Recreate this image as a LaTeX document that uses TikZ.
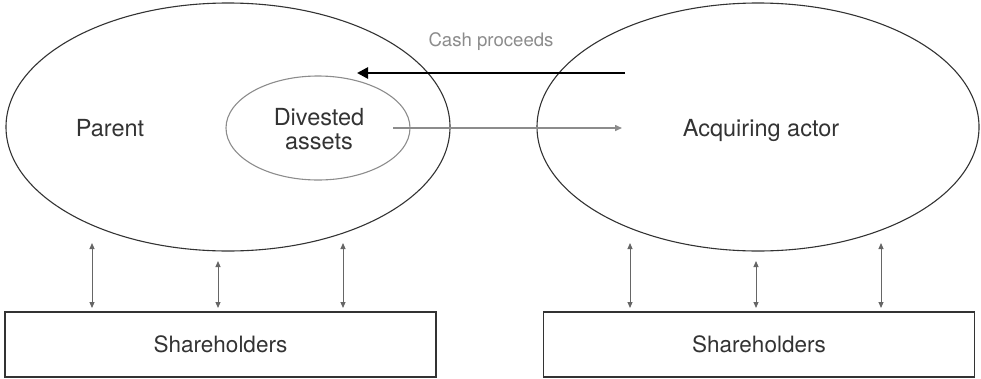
\documentclass[tikz,border=0pt]{standalone}
\usepackage{fontspec}
\setmainfont{TeX Gyre Heros}
\usetikzlibrary{shapes.geometric,arrows.meta}
\definecolor{ink}{HTML}{333333}
\definecolor{soft}{HTML}{8C8C8C}
\definecolor{mid}{HTML}{666666}
\tikzset{
  org/.style={ellipse,draw=ink,line width=1.1pt,inner sep=0pt},
  sub/.style={ellipse,draw=soft,line width=1.1pt,inner sep=0pt},
  lbl/.style={text=ink,font=\fontsize{23.5}{27}\selectfont,align=center},
  holder/.style={draw=ink,line width=1.1pt,minimum width=431pt,minimum height=65pt,inner sep=0pt,text=ink,font=\fontsize{22.5}{26}\selectfont},
  dbl/.style={draw=mid,line width=1pt,{Triangle[length=6pt,width=5pt]}-{Triangle[length=6pt,width=5pt]}},
  cash/.style={draw=black,line width=2.6pt,-{Triangle[length=11pt,width=11pt]}},
  transfer/.style={draw=soft,line width=1.5pt,-{Triangle[length=7pt,width=6pt]}},
}
\begin{document}
\begin{tikzpicture}[x=1pt,y=-1pt]
\useasboundingbox (0,0) rectangle (981,378);
% organisations
\node[org,minimum width=444pt,minimum height=248pt] (parent) at (228,127) {};
\node[org,minimum width=442pt,minimum height=248pt] (acq) at (758,127) {};
\node[sub,minimum width=184pt,minimum height=104pt] (div) at (318,128) {};
\node[lbl] (parentlbl) at (110,128) {Parent};
\node[lbl] (divlbl) at (319,129) {Divested\\[-3pt]assets};
\node[lbl] (acqlbl) at (761,130) {Acquiring actor};
\node[text=soft,font=\fontsize{18.6}{22}\selectfont] (cashlbl) at (491,42) {Cash proceeds};
% shareholders
\node[holder] (shL) at (220.5,344.5) {Shareholders};
\node[holder] (shR) at (759,344.5) {Shareholders};
% flows
\coordinate (cashS) at (625,73);
\coordinate (cashE) at (357,73);
\draw[cash] (cashS) -- (cashE);
\coordinate (trS) at (393,128);
\coordinate (trE) at (622,128);
\draw[transfer] (trS) -- (trE);
% shareholder links
\foreach \n/\x/\t in {l1/92/243,l2/218/261,l3/343/243,r1/630/243,r2/756/261,r3/881/243}{
  \coordinate (\n t) at (\x,\t);
  \coordinate (\n b) at (\x,308);
  \draw[dbl] (\n t) -- (\n b);
}
\end{tikzpicture}
\end{document}
